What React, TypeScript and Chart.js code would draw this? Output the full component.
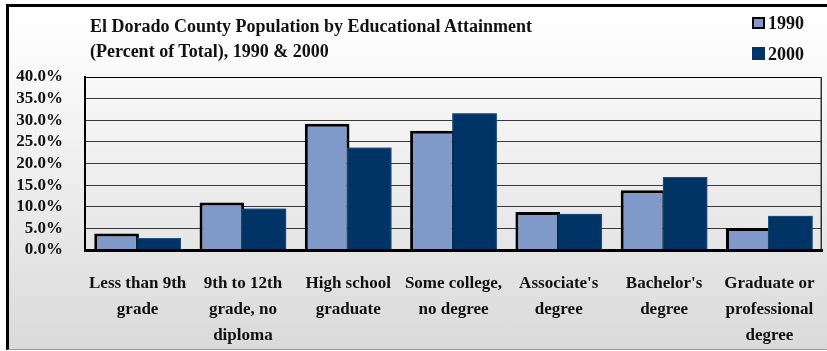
import React, { useEffect, useRef } from 'react';
import { Chart, registerables } from 'chart.js';

Chart.register(...registerables);

const categories: string[][] = [
  ['Less than 9th', 'grade'],
  ['9th to 12th', 'grade, no', 'diploma'],
  ['High school', 'graduate'],
  ['Some college,', 'no degree'],
  ["Associate's", 'degree'],
  ["Bachelor's", 'degree'],
  ['Graduate or', 'professional', 'degree'],
];
const seriesNames = ['1990', '2000'];
const values1990 = [3.8, 11.0, 29.2, 27.6, 8.8, 13.8, 5.1];
const values2000 = [2.8, 9.6, 23.7, 31.6, 8.4, 16.9, 7.9];
const yMin = 0;
const yMax = 40;
const yStep = 5;
const titleLines = [
  'El Dorado County Population by Educational Attainment',
  '(Percent of Total), 1990 & 2000',
];

const COLOR_1990 = '#7f99c9';
const COLOR_2000 = '#003366';
const FONT = '"Liberation Serif", "Times New Roman", serif';

const overlayPlugin = {
  id: 'overlay',
  beforeDatasetsDraw(chart: any) {
    const { ctx, chartArea } = chart;
    ctx.save();
    ctx.strokeStyle = '#333';
    ctx.lineWidth = 1.5;
    ctx.beginPath();
    ctx.moveTo(chartArea.right - 0.75, chartArea.top);
    ctx.lineTo(chartArea.right - 0.75, chartArea.bottom);
    ctx.stroke();
    ctx.restore();
  },
  afterDatasetsDraw(chart: any) {
    const meta = chart.getDatasetMeta(1);
    if (meta && meta.controller) meta.controller.draw();
  },
};

export default function App() {
  const ref = useRef<HTMLCanvasElement | null>(null);

  useEffect(() => {
    if (!ref.current) return;
    const chart = new Chart(ref.current, {
      type: 'bar',
      data: {
        labels: categories,
        datasets: [
          {
            label: seriesNames[0],
            data: values1990,
            backgroundColor: COLOR_1990,
            borderColor: '#000',
            borderWidth: { top: 3, left: 3, right: 3, bottom: 0 } as any,
            borderSkipped: false,
            inflateAmount: 0,
            categoryPercentage: 0.8,
            barPercentage: 1.06,
          },
          {
            label: seriesNames[1],
            data: values2000,
            backgroundColor: COLOR_2000,
            borderColor: '#1f4d7e',
            borderWidth: { top: 1, left: 1, right: 1, bottom: 0 } as any,
            borderSkipped: false,
            inflateAmount: 0,
            categoryPercentage: 0.8,
            barPercentage: 1.06,
          },
        ],
      },
      options: {
        responsive: false,
        animation: false,
        devicePixelRatio: 1,
        layout: { padding: { left: 16, top: 77, right: 5, bottom: 0 } },
        plugins: {
          legend: { display: false },
          title: { display: false },
          tooltip: { enabled: false },
        },
        scales: {
          x: {
            grid: { display: false, drawTicks: false },
            border: { display: true, color: '#000', width: 3, z: 1 } as any,
            ticks: {
              color: '#111',
              font: { family: FONT, size: 17, weight: 'bold', lineHeight: 1.53 },
              padding: 21,
              maxRotation: 0,
              minRotation: 0,
              autoSkip: false,
            },
            afterFit: (s: any) => {
              s.height = 101;
              s.paddingLeft = 0;
              s.paddingRight = 0;
            },
          },
          y: {
            min: yMin,
            max: yMax,
            grid: {
              color: (c: any) => (c.tick && c.tick.value === yMax ? '#000' : '#3a3a3a'),
              lineWidth: 1,
              drawTicks: false,
            },
            border: { display: true, color: '#000', width: 2, z: 1 } as any,
            ticks: {
              stepSize: yStep,
              autoSkip: false,
              color: '#111',
              font: { family: FONT, size: 17, weight: 'bold' },
              padding: 22,
              callback: (v: any) => Number(v).toFixed(1) + '%',
            },
            afterFit: (s: any) => {
              s.width = 69;
            },
          },
        },
      },
      plugins: [overlayPlugin],
    });
    return () => chart.destroy();
  }, []);

  const textStyle: React.CSSProperties = {
    position: 'absolute',
    fontFamily: FONT,
    fontWeight: 'bold',
    fontSize: 18,
    color: '#111',
    whiteSpace: 'nowrap',
  };

  return (
    <div
      style={{
        position: 'fixed',
        left: 0,
        top: 0,
        width: 827,
        height: 351,
        overflow: 'hidden',
        background: '#fff',
      }}
    >
      <div
        style={{
          position: 'absolute',
          left: 6,
          top: 4,
          width: 821,
          height: 346,
          boxSizing: 'border-box',
          borderLeft: '3px solid #000',
          borderTop: '3px solid #000',
          borderBottom: '1px solid #999',
          background: 'linear-gradient(to bottom, #ffffff 0%, #f7f7f7 25%, #dadada 100%)',
        }}
      />
      <canvas
        ref={ref}
        width={827}
        height={351}
        style={{ position: 'absolute', left: 0, top: 0, width: 827, height: 351 }}
      />
      <div style={{ ...textStyle, left: 90, top: 13.5, lineHeight: '25px' }}>
        {titleLines.map((t, i) => (
          <div key={i}>{t}</div>
        ))}
      </div>
      <div
        style={{
          position: 'absolute',
          left: 752,
          top: 17,
          width: 13,
          height: 12,
          boxSizing: 'border-box',
          border: '2px solid #000',
          background: COLOR_1990,
        }}
      />
      <div style={{ ...textStyle, left: 768, top: 14, lineHeight: '18px' }}>{seriesNames[0]}</div>
      <div
        style={{
          position: 'absolute',
          left: 752,
          top: 47,
          width: 13,
          height: 13,
          background: COLOR_2000,
        }}
      />
      <div style={{ ...textStyle, left: 768, top: 45, lineHeight: '18px' }}>{seriesNames[1]}</div>
    </div>
  );
}
